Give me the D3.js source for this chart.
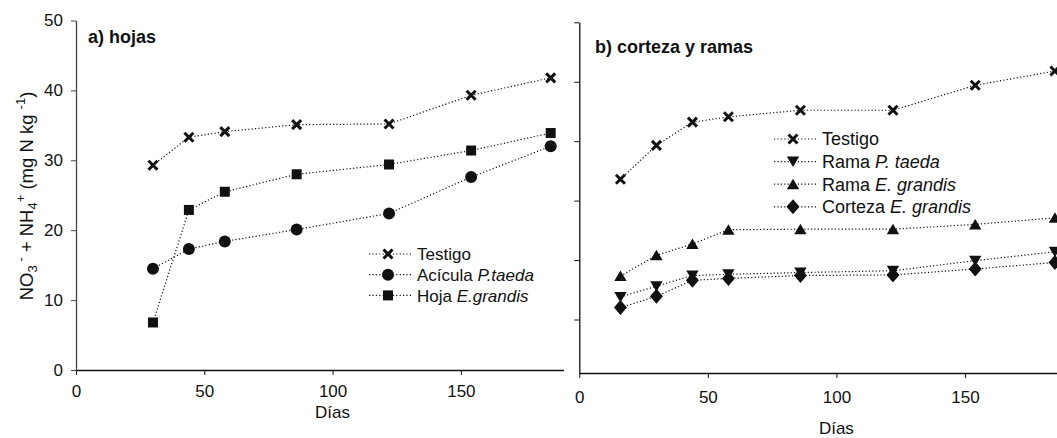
<!DOCTYPE html>
<html>
<head>
<meta charset="utf-8">
<script src="https://cdn.jsdelivr.net/npm/d3@7"></script>
<style>
  html, body { margin: 0; padding: 0; background: #fff; }
  svg { display: block; font-family: "Liberation Sans", Arial, sans-serif; }
</style>
</head>
<body>
<svg id="chart" width="1057" height="438"></svg>
<script>
// Days of sampling
const diasA = [30, 44, 58, 86, 122, 154, 185];
const diasB = [16, 30, 44, 58, 86, 122, 154, 185];

// a) hojas — NO3- + NH4+ (mg N kg-1)
const testigoA = [29.3, 33.3, 34.1, 35.1, 35.2, 39.3, 41.8];
const aciculaPTaeda = [14.5, 17.3, 18.4, 20.1, 22.4, 27.6, 32.0];
const hojaEGrandis = [6.8, 22.9, 25.5, 28.0, 29.4, 31.4, 33.9];

// b) corteza y ramas
const testigoB = [23.6, 29.3, 33.2, 34.1, 35.2, 35.2, 39.4, 41.8];
const ramaPTaeda = [3.8, 5.6, 7.4, 7.6, 7.9, 8.2, 9.9, 11.4];
const ramaEGrandis = [7.3, 10.8, 12.7, 15.1, 15.2, 15.2, 16.0, 17.1];
const cortezaEGrandis = [2.0, 3.9, 6.6, 6.9, 7.4, 7.5, 8.5, 9.6];

// Axis ticks
const xTicks = [0, 50, 100, 150];
const yTicks = [0, 10, 20, 30, 40, 50];

// Legend labels: [plain part, italic part]
const legendA = [["Testigo", ""], ["Acícula ", "P.taeda"], ["Hoja ", "E.grandis"]];
const legendB = [["Testigo", ""], ["Rama ", "P. taeda"], ["Rama ", "E. grandis"], ["Corteza ", "E. grandis"]];

const svg = d3.select("#chart");
const INK = "#111";

// Marker shapes, centred on (0,0)
const markers = {
  cross: g => {
    g.append("path").attr("d", "M-4.5,-4.5L4.5,4.5M-4.5,4.5L4.5,-4.5")
      .attr("stroke", INK).attr("stroke-width", 3).attr("fill", "none");
  },
  circle: g => { g.append("circle").attr("r", 6).attr("fill", INK); },
  square: g => { g.append("rect").attr("x", -5).attr("y", -5).attr("width", 10).attr("height", 10).attr("fill", INK); },
  triUp: g => { g.append("path").attr("d", "M0,-5.5L6.2,5L-6.2,5Z").attr("fill", INK); },
  triDown: g => { g.append("path").attr("d", "M0,5.5L6.2,-5L-6.2,-5Z").attr("fill", INK); },
  diamond: g => { g.append("path").attr("d", "M0,-7.5L6.5,0L0,7.5L-6.5,0Z").attr("fill", INK); }
};

function drawSeries(g, x, y, xs, ys, shape) {
  const line = d3.line().x((d, i) => x(xs[i])).y(d => y(d));
  g.append("path").datum(ys).attr("d", line)
    .attr("fill", "none").attr("stroke", INK).attr("stroke-width", 1.2)
    .attr("stroke-dasharray", "1.2,2.2");
  ys.forEach((v, i) => {
    const m = g.append("g").attr("transform", `translate(${x(xs[i])},${y(v)})`);
    markers[shape](m);
  });
}

function drawLegend(g, items, shapes, x0, y0, dy, fs) {
  items.forEach((it, i) => {
    const cy = y0 + i * dy;
    g.append("line").attr("x1", x0).attr("x2", x0 + 42).attr("y1", cy).attr("y2", cy)
      .attr("stroke", INK).attr("stroke-width", 1.2).attr("stroke-dasharray", "1.2,2.2");
    const m = g.append("g").attr("transform", `translate(${x0 + 19},${cy})`);
    markers[shapes[i]](m);
    const t = g.append("text").attr("x", x0 + 48).attr("y", cy + fs * 0.36)
      .attr("font-size", fs).attr("fill", INK);
    t.append("tspan").text(it[0]);
    if (it[1]) t.append("tspan").attr("font-style", "italic").text(it[1]);
  });
}

// ---------- Panel a ----------
const xA = d3.scaleLinear().domain([0, 190]).range([76, 563.5]);
const yA = d3.scaleLinear().domain([0, 50]).range([370, 20.5]);
const gA = svg.append("g");

gA.append("g").attr("transform", "translate(0,370)")
  .call(d3.axisBottom(xA).tickValues(xTicks).tickSize(5).tickPadding(10).tickSizeOuter(0))
  .call(a => a.select(".domain").attr("stroke", INK).attr("stroke-width", 1.3))
  .call(a => a.selectAll(".tick line").attr("stroke", INK))
  .call(a => a.selectAll("text").attr("font-size", 17).attr("fill", INK).attr("font-family", null));

gA.append("g").attr("transform", "translate(76,0)")
  .call(d3.axisLeft(yA).tickValues(yTicks).tickSize(5).tickPadding(8).tickSizeOuter(0))
  .call(a => a.select(".domain").attr("stroke", "#444").attr("stroke-width", 1.3))
  .call(a => a.selectAll(".tick line").attr("stroke", "#444"))
  .call(a => a.selectAll("text").attr("font-size", 17).attr("fill", INK).attr("font-family", null));

gA.append("text").attr("x", 88).attr("y", 43).attr("font-size", 18).attr("font-weight", "bold")
  .attr("fill", INK).text("a) hojas");

gA.append("text").attr("x", xA(100)).attr("y", 418).attr("text-anchor", "middle")
  .attr("font-size", 17).attr("fill", INK).text("Días");

drawSeries(gA, xA, yA, diasA, testigoA, "cross");
drawSeries(gA, xA, yA, diasA, aciculaPTaeda, "circle");
drawSeries(gA, xA, yA, diasA, hojaEGrandis, "square");
drawLegend(gA, legendA, ["cross", "circle", "square"], 369, 254, 20.7, 17);

// Y axis title with sub/superscripts
const yt = svg.append("text").attr("transform", "translate(33,196) rotate(-90)")
  .attr("text-anchor", "middle").attr("font-size", 18.5).attr("fill", INK);
yt.append("tspan").text("NO");
yt.append("tspan").attr("font-size", 13).attr("dy", 4).text("3");
yt.append("tspan").attr("font-size", 13).attr("dy", -12).text(" -");
yt.append("tspan").attr("dy", 8).text(" + NH");
yt.append("tspan").attr("font-size", 13).attr("dy", 4).text("4");
yt.append("tspan").attr("font-size", 13).attr("dy", -12).text("+");
yt.append("tspan").attr("dy", 8).text(" (mg N kg ");
yt.append("tspan").attr("font-size", 13).attr("dy", -8).text("-1");
yt.append("tspan").attr("dy", 8).text(")");

// ---------- Panel b ----------
const xB = d3.scaleLinear().domain([0, 190]).range([579.3, 1067.8]);
const yB = d3.scaleLinear().domain([-9, 50]).range([373, 22.3]);
const gB = svg.append("g");

gB.append("g").attr("transform", "translate(0,373)")
  .call(d3.axisBottom(xB).tickValues(xTicks).tickSize(5).tickPadding(13).tickSizeOuter(0))
  .call(a => a.select(".domain").attr("stroke", INK).attr("stroke-width", 1.3))
  .call(a => a.selectAll(".tick line").attr("stroke", INK))
  .call(a => a.selectAll("text").attr("font-size", 17).attr("fill", INK).attr("font-family", null));

gB.append("g").attr("transform", "translate(579.3,0)")
  .call(d3.axisLeft(yB).tickValues(yTicks).tickSize(5).tickFormat("").tickSizeOuter(0))
  .call(a => a.select(".domain").attr("stroke", INK).attr("stroke-width", 1.3))
  .call(a => a.selectAll(".tick line").attr("stroke", INK));

gB.append("text").attr("x", 595).attr("y", 53).attr("font-size", 18).attr("font-weight", "bold")
  .attr("fill", INK).text("b) corteza y ramas");

gB.append("text").attr("x", xB(100)).attr("y", 433.5).attr("text-anchor", "middle")
  .attr("font-size", 17).attr("fill", INK).text("Días");

drawSeries(gB, xB, yB, diasB, testigoB, "cross");
drawSeries(gB, xB, yB, diasB, ramaPTaeda, "triDown");
drawSeries(gB, xB, yB, diasB, ramaEGrandis, "triUp");
drawSeries(gB, xB, yB, diasB, cortezaEGrandis, "diamond");
drawLegend(gB, legendB, ["cross", "triDown", "triUp", "diamond"], 774, 139, 22.6, 18);
</script>
</body>
</html>
